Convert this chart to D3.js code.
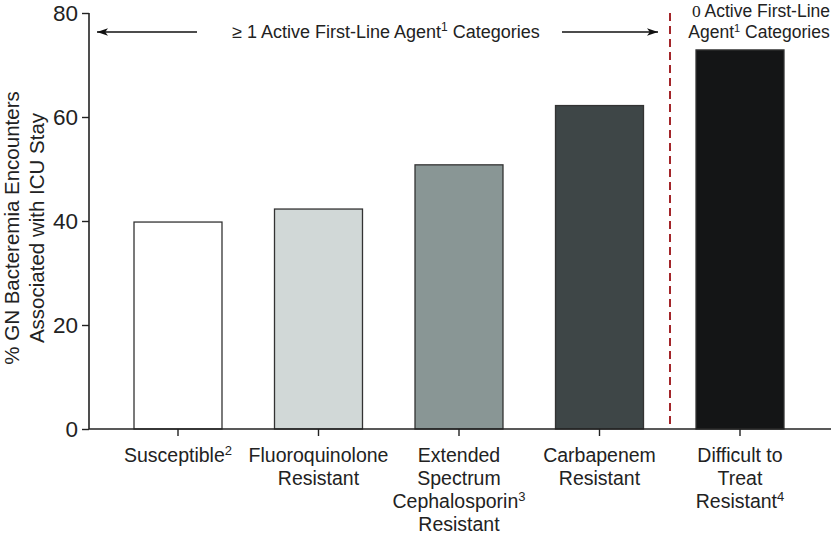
<!DOCTYPE html>
<html><head><meta charset="utf-8">
<script src="https://cdn.jsdelivr.net/npm/d3@7"></script>
<style>body{margin:0;background:#fff}svg{display:block;font-family:"Liberation Sans",Arial,sans-serif}</style>
</head><body><svg id="c" width="832" height="537"></svg>
<script>
const categories = ["Susceptible","Fluoroquinolone Resistant","Extended Spectrum Cephalosporin Resistant","Carbapenem Resistant","Difficult to Treat Resistant"];
const labelLines = [
  [["Susceptible","2"]],
  [["Fluoroquinolone",""],["Resistant",""]],
  [["Extended",""],["Spectrum",""],["Cephalosporin","3"],["Resistant",""]],
  [["Carbapenem",""],["Resistant",""]],
  [["Difficult to",""],["Treat",""],["Resistant","4"]]
];
const values = [39.8, 42.3, 50.8, 62.2, 72.9];
const colors = ["#ffffff","#d1d8d7","#899695","#3e4647","#141516"];
const yTicks = [0,20,40,60,80];

const svg = d3.select("#c");
const y = d3.scaleLinear().domain([0,80]).range([429,13]);
const x = d3.scaleBand().domain(categories).range([107.75,810.25]).paddingInner(0.3737).paddingOuter(0.18685);

svg.selectAll("rect.bar").data(values).join("rect")
  .attr("x",(d,i)=>x(categories[i])).attr("width",x.bandwidth())
  .attr("y",d=>y(d)).attr("height",d=>y(0)-y(d))
  .attr("fill",(d,i)=>colors[i]).attr("stroke","#333").attr("stroke-width",1.3);

const ya = svg.append("g").attr("transform","translate(89,0)")
  .call(d3.axisLeft(y).tickValues(yTicks).tickSize(7).tickPadding(4));
ya.select(".domain").attr("stroke","#222").attr("stroke-width",1.6).attr("d","M0,13V429");
ya.selectAll(".tick line").attr("stroke","#222").attr("stroke-width",1.4);
ya.selectAll("text").attr("font-size",22.5).attr("fill","#222").attr("dy","0.35em")
  .attr("font-family","Liberation Sans, Arial, sans-serif");

const xa = svg.append("g").attr("transform","translate(0,429)")
  .call(d3.axisBottom(x).tickSize(7).tickFormat(""));
xa.select(".domain").attr("d","M89,0H831").attr("stroke","#222").attr("stroke-width",1.6);
xa.selectAll(".tick line").attr("stroke","#222").attr("stroke-width",1.4);

labelLines.forEach((lines,i)=>{
  const cx = x(categories[i]) + x.bandwidth()/2;
  lines.forEach((ln,j)=>{
    const t = svg.append("text").attr("x",cx).attr("y",462+j*23)
      .attr("text-anchor","middle").attr("font-size",19.5).attr("fill","#222");
    t.append("tspan").text(ln[0]);
    if(ln[1]) t.append("tspan").attr("font-size",13).attr("dy",-7).text(ln[1]);
  });
});

const yt = svg.append("g");
yt.append("text").attr("transform","translate(19,228) rotate(-90)")
  .attr("text-anchor","middle").attr("font-size",20.5).attr("fill","#222")
  .text("% GN Bacteremia Encounters");
yt.append("text").attr("transform","translate(43.5,228) rotate(-90)")
  .attr("text-anchor","middle").attr("font-size",20.5).attr("fill","#222")
  .text("Associated with ICU Stay");

svg.append("line").attr("x1",670).attr("x2",670).attr("y1",13).attr("y2",429)
  .attr("stroke","#a3262a").attr("stroke-width",2).attr("stroke-dasharray","8,5");

const defs = svg.append("defs");
defs.append("marker").attr("id","ah").attr("viewBox","0 0 10 10").attr("refX",10).attr("refY",5)
  .attr("markerWidth",11).attr("markerHeight",11).attr("markerUnits","userSpaceOnUse").attr("orient","auto")
  .append("path").attr("d","M0,1.5L10,5L0,8.5L2.5,5Z").attr("fill","#111");
svg.append("line").attr("x1",197).attr("x2",97).attr("y1",32).attr("y2",32)
  .attr("stroke","#111").attr("stroke-width",1.4).attr("marker-end","url(#ah)");
svg.append("line").attr("x1",562).attr("x2",658).attr("y1",32).attr("y2",32)
  .attr("stroke","#111").attr("stroke-width",1.4).attr("marker-end","url(#ah)");

const lt = svg.append("text").attr("x",386).attr("y",38).attr("text-anchor","middle")
  .attr("font-size",18).attr("fill","#222");
lt.append("tspan").text("\u2265 1 Active First-Line Agent");
lt.append("tspan").attr("font-size",12).attr("dy",-7).text("1");
lt.append("tspan").attr("dy",7).text(" Categories");

const rt1 = svg.append("text").attr("x",761).attr("y",17).attr("text-anchor","middle")
  .attr("font-size",17.5).attr("fill","#222");
rt1.append("tspan").attr("font-family","Liberation Serif, Times New Roman, serif").text("0");
rt1.append("tspan").text(" Active First-Line");
const rt2 = svg.append("text").attr("x",759).attr("y",37.5).attr("text-anchor","middle")
  .attr("font-size",17.5).attr("fill","#222");
rt2.append("tspan").text("Agent");
rt2.append("tspan").attr("font-size",11).attr("dy",-6).text("1");
rt2.append("tspan").attr("dy",6).text(" Categories");
</script></body></html>
